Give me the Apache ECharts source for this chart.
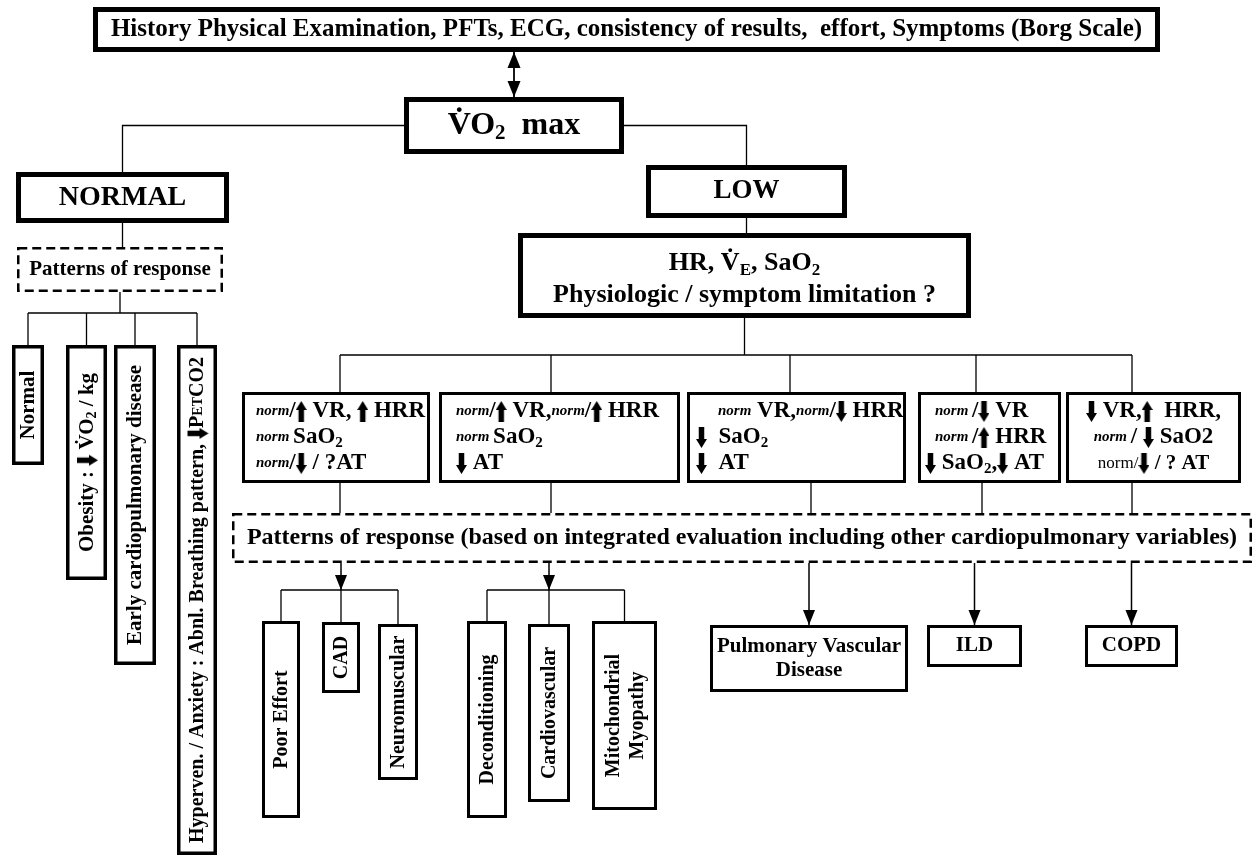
<!DOCTYPE html>
<html>
<head>
<meta charset="utf-8">
<title>VO2 max – interpretation flowchart</title>
<script src="https://cdn.jsdelivr.net/npm/echarts@6/dist/echarts.min.js"></script>
<style>
  html, body { margin: 0; padding: 0; background: #fff; }
  #chart { width: 1257px; height: 864px; }
</style>
</head>
<body>
<div id="chart"></div>
<script>
var SERIF = '"Liberation Serif", "Times New Roman", serif';

// ---- content: node ids and their labels ----
var nodeNames = ['top', 'vo2', 'normal', 'low', 'hr', 'patL',
  'nNormal', 'nObesity', 'nEarly', 'nHyper',
  'b1', 'b2', 'b3', 'b4', 'b5', 'patR',
  'poor', 'cad', 'neuro', 'decond', 'cardio', 'mito',
  'pvd', 'ild', 'copd'];

var nodeLabels = [
  'History Physical Examination, PFTs, ECG, consistency of results,  effort, Symptoms (Borg Scale)',
  '{t|V\u0307O}{s|2}{t|  max}',
  'NORMAL',
  'LOW',
  '{t|HR, V\u0307}{s|E}{t|, SaO}{s|2}\n{t|Physiologic / symptom limitation ?}',
  'Patterns of response',
  'Normal',
  '{t|Obesity : }{d|}{t| V\u0307O}{s|2}{t| / kg}',
  'Early cardiopulmonary disease',
  '{t|Hyperven. / Anxiety : Abnl. Breathing pattern, }{d|}{t|P}{k|ET}{t|CO2}',
  '{n|norm}{t|/}{u|}{t| VR, }{u|}{t| HRR}\n{n|norm }{t|SaO}{s|2}\n{n|norm}{t|/}{d|}{t| / ?AT}',
  '{n|norm}{t|/}{u|}{t| VR,}{n|norm}{t|/}{u|}{t| HRR}\n{n|norm }{t|SaO}{s|2}\n{d|}{t| AT}',
  '{sp|}{n|norm}{t| VR,}{n|norm}{t|/}{d|}{t| HRR}\n{d|}{t|  SaO}{s|2}\n{d|}{t|  AT}',
  '{sq|}{n|norm }{t|/}{d|}{t| VR}\n{sq|}{n|norm }{t|/}{u|}{t| HRR}\n{d|}{t| SaO}{s|2}{t|,}{d|}{t| AT}',
  '{d|}{t| VR,}{u|}{t|  HRR,}\n{n|norm }{t|/ }{d|}{t| SaO2}\n{m|norm/}{d|}{r| / ? AT}',
  'Patterns of response (based on integrated evaluation including other cardiopulmonary variables)',
  'Poor Effort',
  'CAD',
  'Neuromuscular',
  'Deconditioning',
  'Cardiovascular',
  'Mitochondrial\nMyopathy',
  'Pulmonary Vascular\nDisease',
  'ILD',
  'COPD'
];

// ---- layout (diagram units = px of the 1257x864 page) ----
var nodeBox = {
  top: [93, 7, 1160, 52],
  vo2: [404, 97, 624, 154],
  normal: [16, 172, 229, 223],
  low: [646, 165, 847, 218],
  hr: [518, 233, 971, 318],
  patL: [17, 247, 223, 292],
  nNormal: [12, 345, 44, 465],
  nObesity: [66, 345, 107, 580],
  nEarly: [114, 345, 156, 665],
  nHyper: [177, 345, 217, 855],
  b1: [242, 392, 430, 483],
  b2: [439, 392, 680, 483],
  b3: [687, 392, 906, 483],
  b4: [918, 392, 1061, 483],
  b5: [1066, 392, 1241, 483],
  patR: [232, 513, 1252, 563],
  poor: [262, 621, 300, 818],
  cad: [322, 622, 360, 693],
  neuro: [378, 624, 418, 780],
  decond: [467, 621, 507, 818],
  cardio: [528, 624, 570, 802],
  mito: [592, 621, 657, 810],
  pvd: [710, 625, 908, 692],
  ild: [927, 625, 1022, 667],
  copd: [1085, 625, 1178, 667]
};

var thick = { lw: 5 };
var nodeLook = {
  top: { lw: 5, fs: 25 },
  vo2: { lw: 5, fs: 32 },
  normal: { lw: 5, fs: 28 },
  low: { lw: 5, fs: 27 },
  hr: { lw: 5, fs: 26, lh: 32, dy: 4 },
  patL: { lw: 2.5, dash: true, fs: 21 },
  nNormal: { lw: 3.5, fs: 21, vert: true },
  nObesity: { lw: 3.5, fs: 21, vert: true },
  nEarly: { lw: 3.5, fs: 21, vert: true },
  nHyper: { lw: 3.5, fs: 20, vert: true },
  b1: { lw: 3, fs: 23, align: 'left', pad: 11 },
  b2: { lw: 3, fs: 23, align: 'left', pad: 14 },
  b3: { lw: 3, fs: 23, align: 'left', pad: 6 },
  b4: { lw: 3, fs: 23, align: 'left', pad: 4 },
  b5: { lw: 3, fs: 23 },
  patR: { lw: 2.5, dash: true, fs: 24 },
  poor: { lw: 3, fs: 20, vert: true },
  cad: { lw: 3, fs: 20, vert: true },
  neuro: { lw: 3, fs: 20, vert: true },
  decond: { lw: 3, fs: 20, vert: true },
  cardio: { lw: 3, fs: 20, vert: true },
  mito: { lw: 3, fs: 20, vert: true, lh: 24 },
  pvd: { lw: 3, fs: 21, lh: 24 },
  ild: { lw: 3, fs: 21 },
  copd: { lw: 3, fs: 21 }
};

// bus connectors: parent -> several children along a horizontal line
var busLines = [
  { from: 'patL', to: ['nNormal', 'nObesity', 'nEarly', 'nHyper'], y: 313 },
  { from: 'hr', to: ['b1', 'b2', 'b3', 'b4', 'b5'], y: 355, taps: [340, 551, 790, 976, 1132] },
  { from: 'patR', at: 'cad', to: ['poor', 'cad', 'neuro'], y: 590, arrow: true },
  { from: 'patR', at: 'cardio', to: ['decond', 'cardio', 'mito'], y: 590, arrow: true }
];
var mergeIds = ['b1', 'b2', 'b3', 'b4', 'b5'];
var mergeTaps = [340, 551, 811, 982, 1132];
var leafIds = ['pvd', 'ild', 'copd'];

function B(id) {
  var b = nodeBox[id];
  return { x0: b[0], y0: b[1], x1: b[2], y1: b[3], cx: (b[0] + b[2]) / 2, cy: (b[1] + b[3]) / 2 };
}

function buildPaths() {
  var out = [];
  var t = B('top'), v = B('vo2'), nm = B('normal'), lo = B('low'), hr = B('hr'), pl = B('patL'), pr = B('patR');
  out.push({ pts: [[v.cx, t.y1], [v.cx, v.y0]], head: 'both', w: 1.8, hs: [13, 16] });
  out.push({ pts: [[v.x0, v.cy], [nm.cx, v.cy], [nm.cx, nm.y0]] });
  out.push({ pts: [[v.x1, v.cy], [lo.cx, v.cy], [lo.cx, lo.y0]] });
  out.push({ pts: [[nm.cx, nm.y1], [nm.cx, pl.y0]] });
  out.push({ pts: [[lo.cx, lo.y1], [lo.cx, hr.y0]] });
  busLines.forEach(function (bus) {
    var p = B(bus.from);
    var sx = bus.at ? B(bus.at).cx : p.cx;
    var xs = bus.to.map(function (id, k) { return bus.taps ? bus.taps[k] : B(id).cx; });
    out.push({ pts: [[sx, p.y1], [sx, bus.y]], head: bus.arrow ? 'end' : null, w: bus.arrow ? 1.5 : 1.3 });
    out.push({ pts: [[Math.min.apply(null, xs), bus.y], [Math.max.apply(null, xs), bus.y]] });
    bus.to.forEach(function (id, k) {
      out.push({ pts: [[xs[k], bus.y], [xs[k], B(id).y0]] });
    });
  });
  mergeIds.forEach(function (id, k) {
    out.push({ pts: [[mergeTaps[k], B(id).y1], [mergeTaps[k], pr.y0]] });
  });
  leafIds.forEach(function (id) {
    var c = B(id);
    out.push({ pts: [[c.cx, pr.y1], [c.cx, c.y0]], head: 'end', w: 1.5 });
  });
  return out;
}
var paths = buildPaths();

// thick block arrows used inside the labels
function arrowImg(up, w, h) {
  var c = document.createElement('canvas');
  c.width = w; c.height = h;
  var g = c.getContext('2d');
  var hl = Math.round(h * 0.42), sw = w * 0.5;
  g.fillStyle = '#000';
  g.beginPath();
  if (up) {
    g.moveTo(w / 2, 0); g.lineTo(w, hl); g.lineTo((w + sw) / 2, hl); g.lineTo((w + sw) / 2, h);
    g.lineTo((w - sw) / 2, h); g.lineTo((w - sw) / 2, hl); g.lineTo(0, hl);
  } else {
    g.moveTo(w / 2, h); g.lineTo(w, h - hl); g.lineTo((w + sw) / 2, h - hl); g.lineTo((w + sw) / 2, 0);
    g.lineTo((w - sw) / 2, 0); g.lineTo((w - sw) / 2, h - hl); g.lineTo(0, h - hl);
  }
  g.closePath();
  g.fill();
  return c;
}
var upImg = arrowImg(true, 11, 21);
var dnImg = arrowImg(false, 11, 21);

function richSet(fs, lh) {
  return {
    t: { fontFamily: SERIF, fontWeight: 'bold', fontSize: fs, fill: '#000', lineHeight: lh },
    s: { fontFamily: SERIF, fontWeight: 'bold', fontSize: Math.round(fs * 0.66), fill: '#000', verticalAlign: 'bottom' },
    n: { fontFamily: SERIF, fontWeight: 'bold', fontStyle: 'italic', fontSize: Math.round(fs * 0.66), fill: '#000', lineHeight: lh },
    k: { fontFamily: SERIF, fontWeight: 'bold', fontSize: Math.round(fs * 0.7), fill: '#000' },
    m: { fontFamily: SERIF, fontWeight: 'normal', fontSize: Math.round(fs * 0.75), fill: '#000' },
    r: { fontFamily: SERIF, fontWeight: 'bold', fontSize: Math.round(fs * 0.9), fill: '#000' },
    u: { width: 11, height: 21, backgroundColor: { image: upImg } },
    d: { width: 11, height: 21, backgroundColor: { image: dnImg } },
    sp: { width: 22, height: 2 },
    sq: { width: 10, height: 2 }
  };
}

function renderBox(params, api) {
  var id = nodeNames[params.dataIndex];
  var c = B(id), lk = nodeLook[id];
  var p0 = api.coord([c.x0, c.y0]), p1 = api.coord([c.x1, c.y1]);
  var hw = lk.lw / 2;
  var lh = lk.lh || Math.round(lk.fs * 1.15);
  var rect = {
    type: 'rect',
    shape: { x: p0[0] + hw, y: p0[1] + hw, width: p1[0] - p0[0] - lk.lw, height: p1[1] - p0[1] - lk.lw },
    style: { fill: '#fff', stroke: '#000', lineWidth: lk.lw, lineDash: lk.dash ? [9, 5] : null }
  };
  var align = lk.align || 'center';
  var tx = align === 'left' ? p0[0] + lk.lw + lk.pad : (p0[0] + p1[0]) / 2;
  var ty = (p0[1] + p1[1]) / 2 + (lk.dy || 0);
  var text = {
    type: 'text',
    x: lk.vert ? (p0[0] + p1[0]) / 2 + 1 : tx,
    y: ty,
    rotation: lk.vert ? Math.PI / 2 : 0,
    style: {
      text: nodeLabels[params.dataIndex],
      fill: '#000',
      fontFamily: SERIF,
      fontWeight: 'bold',
      fontSize: lk.fs,
      lineHeight: lh,
      align: align,
      verticalAlign: 'middle',
      rich: richSet(lk.fs, lh)
    }
  };
  return { type: 'group', children: [rect, text] };
}

function headShape(tip, from, size) {
  var dx = tip[0] - from[0], dy = tip[1] - from[1];
  var len = Math.sqrt(dx * dx + dy * dy) || 1;
  var ux = dx / len, uy = dy / len;
  var w = size[0] / 2, l = size[1];
  var bx = tip[0] - ux * l, by = tip[1] - uy * l;
  return {
    type: 'polygon',
    shape: { points: [tip, [bx - uy * w, by + ux * w], [bx + uy * w, by - ux * w]] },
    style: { fill: '#000', stroke: null }
  };
}

function renderPath(params, api) {
  var p = paths[params.dataIndex];
  var pts = p.pts.map(function (q) { return api.coord(q); });
  var size = p.hs || [12, 15];
  var kids = [{
    type: 'polyline',
    shape: { points: pts },
    style: { stroke: '#000', lineWidth: p.w || 1.3, fill: 'none' }
  }];
  if (p.head === 'end' || p.head === 'both') kids.push(headShape(pts[pts.length - 1], pts[pts.length - 2], size));
  if (p.head === 'both') kids.push(headShape(pts[0], pts[1], size));
  return { type: 'group', children: kids };
}

var chart = echarts.init(document.getElementById('chart'));
chart.setOption({
  animation: false,
  backgroundColor: '#fff',
  grid: { left: 0, right: 0, top: 0, bottom: 0 },
  xAxis: { type: 'value', min: 0, max: 1257, show: false },
  yAxis: { type: 'value', min: 0, max: 864, inverse: true, show: false },
  series: [
    {
      type: 'custom',
      name: 'connectors',
      z: 1,
      renderItem: renderPath,
      data: paths.map(function (p, i) { return [i, i]; })
    },
    {
      type: 'custom',
      name: 'boxes',
      z: 2,
      renderItem: renderBox,
      data: nodeNames.map(function (n, i) { return { name: n, value: [i, i] }; })
    }
  ]
});
</script>
</body>
</html>
